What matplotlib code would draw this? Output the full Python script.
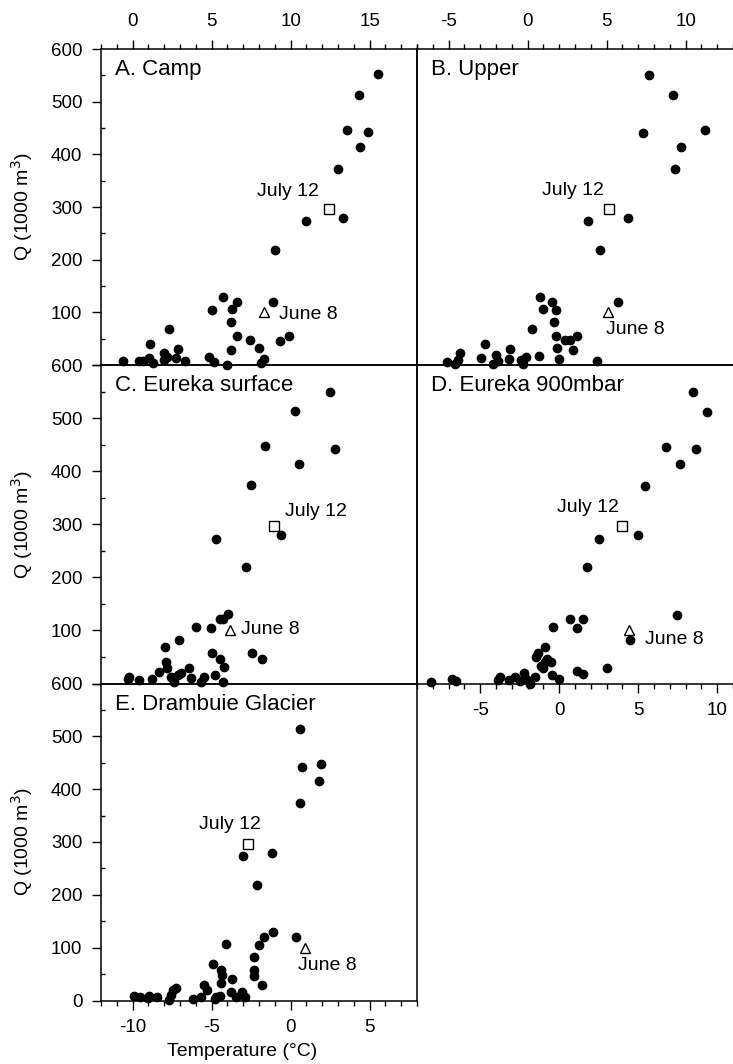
import matplotlib
matplotlib.use('Agg')
import matplotlib.pyplot as plt
from matplotlib.ticker import MultipleLocator

plt.rcParams['font.family'] = ['Liberation Sans', 'DejaVu Sans']
plt.rcParams['axes.unicode_minus'] = False

# A. Camp
camp_t = [15.5, 14.3, 13.6, 14.9, 14.4, 13.0, 11.0, 13.3, 9.0, 8.9, 5.7, 6.6, 5.0, 6.3, 6.25, 6.6,
          7.4, 8.0, 9.35, 9.9, 6.2, 2.3, 1.1, 2.85,
          -0.6, 0.4, 0.65, 1.05, 1.3, 2.0, 2.0, 2.2, 2.75, 3.3, 4.85, 5.15, 6.0, 8.3, 8.1]
camp_q = [552, 513, 447, 442, 414, 373, 273, 280, 218, 120, 129, 120, 104, 106, 82, 55,
          48, 32, 46, 55, 29, 69, 40, 30,
          8, 8, 8, 13, 3, 22, 9, 16, 13, 8, 16, 6, 0, 11, 3]
camp_july = (12.4, 296)
camp_june = (8.3, 100)

# B. Upper
upper_t = [7.7, 9.2, 7.3, 11.2, 9.7, 9.3, 3.85, 6.35, 4.6, 5.7,
           -5.1, -4.6, -4.3, -4.4, -2.7, -2.95, -2.2, -2.0, -1.9, -1.2, -1.1, -0.4, -0.3, -0.1,
           0.25, 0.7, 0.8, 0.95, 1.55, 1.8, 1.7, 1.8, 1.85, 2.0, 2.35, 2.7, 3.15, 2.9, 4.4]
upper_q = [550, 512, 441, 446, 414, 373, 274, 279, 218, 120,
           6, 2, 23, 10, 40, 13, 2, 19, 8, 12, 30, 10, 2, 16,
           69, 17, 130, 106, 120, 104, 82, 55, 32, 11, 47, 47, 56, 29, 7]
upper_july = (5.15, 296)
upper_june = (5.1, 100)

# C. Eureka surface
surf_t = [12.5, 10.3, 8.4, 12.8, 10.5, 7.5, 5.3, 9.4, 7.15, 6.06, 5.5, 5.7, 4.97, 4.0, 2.96, 2.08,
          7.57, 8.2,
          -0.3, -0.2, 0.4, 1.2, 1.65, 2.1, 2.2, 2.45, 2.6, 2.85, 3.05, 3.55, 3.7, 4.3, 4.5, 5.05,
          5.2, 5.5, 5.8, 5.7]
surf_q = [550, 513, 447, 442, 414, 373, 273, 280, 219, 130, 122, 122, 104, 106, 82, 69,
          57, 47,
          8, 13, 7, 8, 22, 41, 29, 13, 3, 16, 19, 29, 10, 3, 13, 57,
          16, 47, 32, 3]
surf_july = (8.95, 297)
surf_june = (6.15, 100)

# D. Eureka 900mbar
mbar_t = [8.45, 9.35, 6.75, 8.65, 7.65, 5.4, 2.5, 5.0, 1.75, 7.45, 4.5,
          -8.1, -6.8, -6.55, -3.85, -3.75, -3.2, -2.8, -2.5, -2.2, -2.1, -1.85, -1.55, -1.5,
          -1.35, -1.15, -0.9, -0.8, -0.9, -0.5, -1.0, -0.45, 0.0, -0.4, 0.7, 1.5, 1.1, 1.1, 1.5, 3.0]
mbar_q = [550, 512, 446, 441, 413, 372, 273, 279, 219, 129, 82,
          3, 9, 5, 7, 13, 7, 12, 5, 20, 8, 0, 12, 50,
          58, 33, 69, 47, 41, 41, 29, 16, 8, 107, 121, 121, 104, 24, 18, 29]
mbar_july = (4.0, 297)
mbar_june = (4.4, 100)

# E. Drambuie Glacier
glac_t = [0.6, 0.7, 1.9, 1.8, 0.6, -3.0, -1.2, -2.1, -1.1, -1.7, 0.37, -2.0, -4.1, -2.3, -2.3,
          -2.3, -1.8, -4.9,
          -9.9, -9.55, -9.05, -8.95, -8.45, -7.7, -7.55, -7.45, -7.25, -6.2, -5.7, -5.5, -5.3,
          -4.8, -4.7, -4.5, -4.4, -4.35, -4.4, -3.75, -3.7, -3.45, -3.05, -2.9]
glac_q = [514, 442, 447, 415, 373, 273, 280, 219, 129, 121, 120, 105, 106, 82, 57,
          46, 29, 70,
          8, 7, 4, 8, 7, 1, 10, 19, 23, 2, 7, 29, 20,
          2, 7, 9, 57, 48, 34, 17, 40, 6, 17, 7]
glac_july = (-2.7, 297)
glac_june = (0.93, 100)

fig = plt.figure(figsize=(7.33, 10.64), dpi=100)

W = 316 / 733
lx, rx = 101 / 733, 417 / 733
rows = [(1064 - 365) / 1064, (1064 - 683.5) / 1064, (1064 - 1000.5) / 1064]

axA = fig.add_axes([lx, rows[0], W, 316 / 1064])
axB = fig.add_axes([rx, rows[0], W, 316 / 1064])
axC = fig.add_axes([lx, rows[1], W, 318.5 / 1064])
axD = fig.add_axes([rx, rows[1], W, 318.5 / 1064])
axE = fig.add_axes([lx, rows[2], W, 317 / 1064])

panels = [
    (axA, camp_t, camp_q, camp_july, camp_june, 'A. Camp', (-2, 18),
     (11.8, 330, 'right'), (9.25, 95)),
    (axB, upper_t, upper_q, upper_july, upper_june, 'B. Upper', (-7, 13),
     (4.85, 331, 'right'), (4.95, 68)),
    (axC, surf_t, surf_q, surf_july, surf_june, 'C. Eureka surface', (-2, 18),
     (9.65, 324, 'left'), (6.85, 102)),
    (axD, mbar_t, mbar_q, mbar_july, mbar_june, 'D. Eureka 900mbar', (-9, 11),
     (3.8, 331, 'right'), (5.4, 82)),
    (axE, glac_t, glac_q, glac_july, glac_june, 'E. Drambuie Glacier', (-12, 8),
     (-1.85, 333, 'right'), (0.5, 66)),
]

for ax, t, q, july, june, title, xlim, jl, jn in panels:
    ax.set_facecolor('none')
    ax.plot(t, q, 'o', color='black', ms=6, clip_on=False, zorder=3)
    ax.plot(*july, 's', mfc='white', mec='black', mew=1.0, ms=7, clip_on=False, zorder=3)
    ax.plot(*june, '^', mfc='white', mec='black', mew=1.0, ms=7, clip_on=False, zorder=3)
    ax.text(jl[0], jl[1], 'July 12', ha=jl[2], va='center', fontsize=14)
    ax.text(jn[0], jn[1], 'June 8', ha='left', va='center', fontsize=14)
    ax.text(0.045, 0.935, title, transform=ax.transAxes, ha='left', va='center', fontsize=16)
    ax.set_xlim(*xlim)
    ax.set_ylim(0, 600)
    ax.xaxis.set_major_locator(MultipleLocator(5))
    ax.xaxis.set_minor_locator(MultipleLocator(1))
    ax.yaxis.set_major_locator(MultipleLocator(100))
    ax.yaxis.set_minor_locator(MultipleLocator(50))
    ax.tick_params(axis='both', which='major', direction='out', length=6.5, width=1,
                   labelsize=13.5, pad=7)
    ax.tick_params(axis='both', which='minor', direction='out', length=3.5, width=1)
    ax.tick_params(axis='x', which='both', bottom=False, top=False,
                   labelbottom=False, labeltop=False)
    ax.tick_params(axis='y', which='both', left=False, right=False,
                   labelleft=False, labelright=False)
    for s in ax.spines.values():
        s.set_linewidth(1.1)

# ticks for each panel
axA.tick_params(axis='x', which='both', top=True, labeltop=True)
axB.tick_params(axis='x', which='both', top=True, labeltop=True)
axD.tick_params(axis='x', which='both', bottom=True, labelbottom=True)
axE.tick_params(axis='x', which='both', bottom=True, labelbottom=True)

for ax in (axA, axC, axE):
    ax.tick_params(axis='y', which='major', left=True, labelleft=True)
    ax.tick_params(axis='y', which='minor', left=True, direction='in', length=3)
    ax.set_ylabel('Q (1000 m$^3$)', fontsize=14)
    ax.yaxis.set_label_coords(-0.21, 0.5)

for ax in (axA, axC):
    ax.set_yticks([0, 100, 200, 300, 400, 500, 600])
    ax.set_yticklabels(['', '100', '200', '300', '400', '500', '600'])

for ax in (axB, axD):
    ax.spines['right'].set_visible(False)

axE.set_xlabel('Temperature (°C)', fontsize=14)
axE.xaxis.set_label_coords(0.448, -0.135)

fig.savefig('out.png', dpi=100)
